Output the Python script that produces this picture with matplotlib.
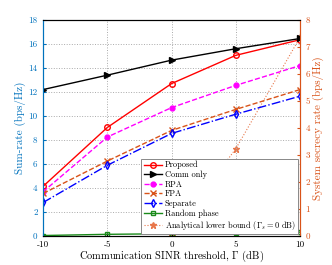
import numpy as np
import matplotlib
matplotlib.use("Agg")
import matplotlib.pyplot as plt

plt.rcParams['font.family'] = ['cmr10', 'DejaVu Serif']
plt.rcParams['mathtext.fontset'] = 'cm'
plt.rcParams['axes.unicode_minus'] = False
plt.rcParams['axes.formatter.use_mathtext'] = False

# data
sinr = [-10, -5, 0, 5, 10]
proposed = [4.15, 9.05, 12.7, 15.05, 16.35]
comm_only = [12.2, 13.4, 14.65, 15.6, 16.45]
rpa = [3.7, 8.25, 10.7, 12.55, 14.2]
fpa = [3.55, 6.25, 8.8, 10.55, 12.2]
separate = [2.8, 5.9, 8.55, 10.15, 11.65]
random_phase = [0.05, 0.15, 0.2, 0.28, 0.33]
analytical = [np.nan, np.nan, 0.02, 3.24, 7.36]  # secrecy rate, right axis

left_color = '#0072BD'
right_color = '#D95319'

fig = plt.figure(figsize=(3.32, 2.65), dpi=100)
ax = fig.add_axes([0.13, 0.109, 0.774, 0.816])
ax2 = ax.twinx()

h1, = ax.plot(sinr, proposed, '-o', color='red', mfc='none', ms=4, lw=1, label='Proposed')
h2, = ax.plot(sinr, comm_only, '->', color='black', ms=4, lw=1, label='Comm only')
h3, = ax.plot(sinr, rpa, '--o', color='magenta', ms=3.5, lw=1, label='RPA')
h4, = ax.plot(sinr, fpa, '--x', color=right_color, ms=4, lw=1, label='FPA')
h5, = ax.plot(sinr, separate, '-.d', color='blue', mfc='none', ms=4, lw=1, label='Separate')
h6, = ax.plot(sinr, random_phase, '-s', color='#1a8a1a', mfc='none', ms=3.5, lw=1, label='Random phase')
h7, = ax2.plot(sinr, analytical, ':*', color='#E8774A', ms=5, lw=0.8,
               label=r'Analytical lower bound ($\Gamma_s = 0$ dB)')

ax.set_xlim(-10, 10)
ax.set_ylim(0, 18)
ax.set_xticks([-10, -5, 0, 5, 10])
ax.set_yticks(range(0, 19, 2))
ax2.set_ylim(0, 8)
ax2.set_yticks(range(0, 9))

ax.grid(True, linestyle=':', color='#aaaaaa', lw=0.7)
ax.set_xlabel(r'Communication SINR threshold, $\Gamma$ (dB)', fontsize=7.5, labelpad=0)
ax.set_ylabel('Sum-rate (bps/Hz)', fontsize=8, color=left_color, labelpad=2)
ax2.set_ylabel('System secrecy rate (bps/Hz)', fontsize=8, color=right_color, labelpad=2)

ax.tick_params(axis='y', colors=left_color, labelsize=6.5, length=2, direction='in', pad=4)
ax.tick_params(axis='x', labelsize=6.5, length=2, direction='in', pad=3)
ax2.tick_params(axis='y', colors=right_color, labelsize=6.5, length=2, direction='in', pad=4)
ax2.spines['left'].set_color(left_color)
ax2.spines['right'].set_color(right_color)
ax.spines['left'].set_color(left_color)
ax.spines['right'].set_color(right_color)

leg = ax.legend(handles=[h1, h2, h3, h4, h5, h6, h7], loc='lower right', fontsize=6,
                frameon=True, fancybox=False, edgecolor='#888888', framealpha=1,
                handlelength=2.2, handletextpad=0.3, labelspacing=0.15,
                borderpad=0.3, borderaxespad=0.2)
leg.get_frame().set_linewidth(0.7)
ax.set_zorder(ax2.get_zorder() + 1)
ax.patch.set_visible(False)

fig.savefig('out.png', dpi=100)
